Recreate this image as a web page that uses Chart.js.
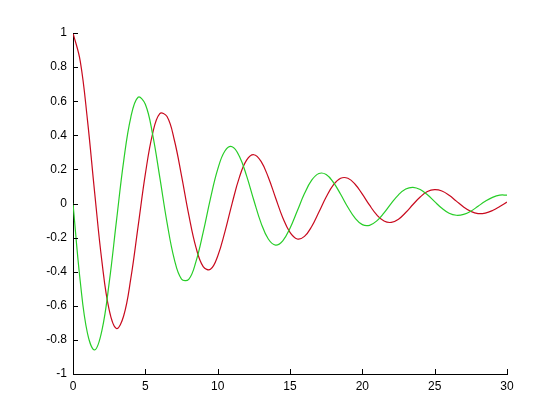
<!DOCTYPE html>
<html>
<head>
<meta charset="utf-8">
<script src="https://cdn.jsdelivr.net/npm/chart.js@4.4.1/dist/chart.umd.min.js"></script>
<style>
  html, body { margin: 0; padding: 0; background: #fff; }
  #grafico { display: block; }
</style>
</head>
<body>
<canvas id="grafico" width="560" height="420"></canvas>
<script>
// valores (paso 0.5 en x)
const tiempos = [0, 0.5, 1, 1.5, 2, 2.5, 3, 3.5, 4, 4.5, 5, 5.5, 6, 6.5, 7, 7.5, 8, 8.5, 9, 9.5,
    10, 10.5, 11, 11.5, 12, 12.5, 13, 13.5, 14, 14.5, 15, 15.5, 16, 16.5, 17, 17.5, 18, 18.5, 19, 19.5,
    20, 20.5, 21, 21.5, 22, 22.5, 23, 23.5, 24, 24.5, 25, 25.5, 26, 26.5, 27, 27.5, 28, 28.5, 29, 29.5, 30];

const serieRoja = [1.000, 0.835, 0.489, 0.061, -0.341, -0.624, -0.733, -0.660, -0.438, -0.134,
    0.172, 0.409, 0.527, 0.510, 0.374, 0.164, -0.065, -0.257, -0.370, -0.386,
    -0.309, -0.166, 0.001, 0.153, 0.254, 0.286, 0.247, 0.154, 0.034, -0.083,
    -0.169, -0.208, -0.193, -0.135, -0.050, 0.038, 0.109, 0.148, 0.148, 0.113,
    0.055, -0.010, -0.067, -0.103, -0.111, -0.092, -0.053, -0.006, 0.038, 0.070,
    0.081, 0.073, 0.048, 0.014, -0.020, -0.046, -0.059, -0.056, -0.041, -0.018, 0.008];

const serieVerde = [0.000, -0.456, -0.761, -0.859, -0.744, -0.466, -0.105, 0.247, 0.507, 0.623,
    0.582, 0.407, 0.153, -0.112, -0.326, -0.443, -0.445, -0.341, -0.168, 0.029,
    0.200, 0.308, 0.333, 0.277, 0.162, 0.019, -0.115, -0.208, -0.244, -0.219,
    -0.145, -0.044, 0.058, 0.137, 0.176, 0.170, 0.124, 0.054, -0.022, -0.086,
    -0.124, -0.128, -0.102, -0.055, 0.001, 0.051, 0.085, 0.095, 0.082, 0.051,
    0.011, -0.028, -0.057, -0.069, -0.064, -0.045, -0.016, 0.013, 0.036, 0.049, 0.049];

const ticksX = [0, 5, 10, 15, 20, 25, 30];
const ticksY = [-1, -0.8, -0.6, -0.4, -0.2, 0, 0.2, 0.4, 0.6, 0.8, 1];

function puntos(valores) {
    return tiempos.map((t, i) => ({ x: t, y: valores[i] }));
}

// marcas hacia adentro, estilo matlab
const marcasInternas = {
    id: 'marcasInternas',
    afterDatasetsDraw(chart) {
        const ctx = chart.ctx;
        const ejeX = chart.scales.x;
        const ejeY = chart.scales.y;
        const area = chart.chartArea;
        ctx.save();
        ctx.strokeStyle = '#000';
        ctx.lineWidth = 1;
        ctx.beginPath();
        ticksX.forEach(v => {
            const px = Math.round(ejeX.getPixelForValue(v)) + 0.5;
            ctx.moveTo(px, area.bottom);
            ctx.lineTo(px, area.bottom - 5);
        });
        ticksY.forEach(v => {
            const py = Math.round(ejeY.getPixelForValue(v)) + 0.5;
            ctx.moveTo(area.left, py);
            ctx.lineTo(area.left + 5, py);
        });
        ctx.stroke();
        ctx.restore();
    }
};

const ctx = document.getElementById('grafico').getContext('2d');
new Chart(ctx, {
    type: 'line',
    data: {
        datasets: [{
            data: puntos(serieVerde),
            borderColor: 'rgb(40, 205, 40)',
            borderWidth: 1.2,
            pointRadius: 0,
            tension: 0.4,
            fill: false
        }, {
            data: puntos(serieRoja),
            borderColor: 'rgb(200, 10, 30)',
            borderWidth: 1.2,
            pointRadius: 0,
            tension: 0.4,
            fill: false
        }]
    },
    options: {
        responsive: false,
        animation: false,
        layout: { padding: { left: 0, top: 33, right: 53, bottom: 0 } },
        plugins: {
            legend: { display: false },
            tooltip: { enabled: false }
        },
        scales: {
            x: {
                type: 'linear',
                min: 0,
                max: 30,
                afterFit(scale) { scale.height = 46; },
                afterBuildTicks(scale) { scale.ticks = ticksX.map(v => ({ value: v })); },
                grid: { display: false, drawTicks: false },
                border: { display: true, color: '#000', width: 1 },
                ticks: {
                    color: '#000',
                    padding: 5,
                    maxRotation: 0,
                    font: { family: 'Liberation Sans, Arial, sans-serif', size: 12 }
                }
            },
            y: {
                type: 'linear',
                min: -1,
                max: 1,
                afterFit(scale) { scale.width = 73; },
                afterBuildTicks(scale) { scale.ticks = ticksY.map(v => ({ value: v })); },
                grid: { display: false, drawTicks: false },
                border: { display: true, color: '#000', width: 1 },
                ticks: {
                    color: '#000',
                    padding: 6,
                    font: { family: 'Liberation Sans, Arial, sans-serif', size: 12 },
                    callback: v => String(Math.round(v * 10) / 10)
                }
            }
        }
    },
    plugins: [marcasInternas]
});
</script>
</body>
</html>
